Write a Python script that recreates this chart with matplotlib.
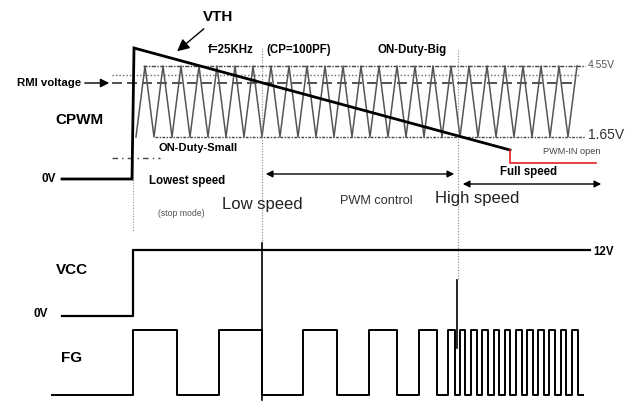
import matplotlib
matplotlib.use("Agg")
import matplotlib.pyplot as plt

plt.rcParams['font.family'] = ['Liberation Sans', 'DejaVu Sans']

# levels (pixel rows of the drawing)
y_vth_top = 48
y_455 = 66
y_dot = 75
y_rmi = 83
y_165 = 137
y_cpwm0 = 179
y_red = 163

# CPWM / VTH trace
cpwm_x = [62, 132, 134, 510]
cpwm_y = [179, 179, 48, 150]
red_x = [510, 510, 596]
red_y = [150, 163, 163]

# triangle carrier (f=25KHz)
tri_bot_x = [136, 154, 172, 190, 208, 226, 244, 262, 280, 298, 316, 334, 352,
             370, 388, 406, 424, 442, 460, 478, 496, 514, 532, 550, 568]
tri_top_x = [145, 163, 181, 199, 217, 235, 253, 271, 289, 307, 325, 343, 361,
             379, 397, 415, 433, 451, 469, 487, 505, 523, 541, 559, 577]

# VCC
vcc_x = [62, 133, 133, 590]
vcc_y = [316, 316, 250, 250]

# FG edges (start low)
fg_start, fg_end = 52, 583
fg_edges = [133, 177, 219, 262, 303, 337, 369, 397, 419, 437, 448, 455,
            460, 465, 471, 477, 482, 488, 494, 499, 505, 510, 516, 522,
            527, 533, 538, 544, 549, 555, 561, 566, 572, 578]
fg_lo, fg_hi = 395, 330

fig = plt.figure(figsize=(6.3, 4.01), dpi=100)
ax = fig.add_axes([0, 0, 1, 1])
ax.set_xlim(0, 630)
ax.set_ylim(401, 0)
ax.axis('off')

# reference levels
ax.plot([143, 585], [y_455, y_455], color='#444444', lw=1.0, ls=(0, (3, 1, 1, 1)))
ax.plot([112, 580], [y_dot, y_dot], color='#666666', lw=1.0, ls=(0, (1, 1.5)))
ax.plot([112, 577], [y_rmi, y_rmi], color='#333333', lw=1.2, ls=(0, (6, 3)))
ax.plot([155, 585], [y_165, y_165], color='#444444', lw=1.0, ls=(0, (2, 1, 1, 1)))
ax.plot([112, 160], [158, 158], color='#444444', lw=1.0, ls=(0, (4, 3, 1, 3)))

# triangle wave
tx, ty = [], []
for b, t in zip(tri_bot_x, tri_top_x):
    tx += [b, t]
    ty += [y_165, y_455]
ax.plot(tx, ty, color='#555555', lw=1.1)

# vertical guides
ax.plot([133, 133], [160, 232], color='#999999', lw=0.8, ls=(0, (1, 1.5)))
ax.plot([262, 262], [48, 243], color='#888888', lw=0.8, ls=(0, (1, 1.5)))
ax.plot([458, 458], [50, 280], color='#888888', lw=0.8, ls=(0, (1, 1.5)))
ax.plot([262, 262], [243, 400], color='black', lw=1.2)
ax.plot([457, 457], [280, 348], color='black', lw=1.2)

# CPWM trace
ax.plot(cpwm_x, cpwm_y, color='black', lw=2.0, solid_joinstyle='miter')
ax.plot(red_x, red_y, color='#e02020', lw=1.2)

# VCC and FG
ax.plot(vcc_x, vcc_y, color='black', lw=1.6)
fx, fy = [fg_start], [fg_lo]
level = fg_lo
for e in fg_edges:
    fx += [e, e]
    nxt = fg_hi if level == fg_lo else fg_lo
    fy += [level, nxt]
    level = nxt
fx.append(fg_end)
fy.append(level)
ax.plot(fx, fy, color='black', lw=1.4)

# arrows
aprops = dict(arrowstyle='-|>', color='black', lw=1.0, mutation_scale=13)
ax.annotate('', xy=(112, y_rmi), xytext=(82, y_rmi), arrowprops=aprops)
ax.annotate('', xy=(175, 53), xytext=(206, 27),
            arrowprops=dict(arrowstyle='-|>', color='black', lw=1.0, mutation_scale=18))
dprops = dict(arrowstyle='<|-|>', color='black', lw=1.0, mutation_scale=10)
ax.annotate('', xy=(457, 174), xytext=(263, 174), arrowprops=dprops)
ax.annotate('', xy=(604, 184), xytext=(460, 184), arrowprops=dprops)

# labels
def lab(x, y, s, size, bold=True, ha='center', color='black'):
    ax.text(x, y, s, fontsize=size, fontweight='bold' if bold else 'normal',
            ha=ha, va='center', color=color)

lab(218, 17, 'VTH', 11)
lab(231, 50, 'f=25KHz', 8.3)
lab(299, 50, '(CP=100PF)', 8.3)
lab(412, 50, 'ON-Duty-Big', 8.3)
lab(17, 83, 'RMI voltage', 8.2, ha='left')
lab(79, 120, 'CPWM', 11)
lab(198, 148, 'ON-Duty-Small', 8.0)
lab(49, 179, '0V', 8.5)
lab(187, 181, 'Lowest speed', 8.3)
lab(181, 214, '(stop mode)', 6.3, bold=False, color='#555555')
lab(262, 205, 'Low speed', 12, bold=False, color='#222222')
lab(376, 201, 'PWM control', 9.2, bold=False, color='#333333')
lab(477, 198, 'High speed', 12, bold=False, color='#222222')
lab(529, 172, 'Full speed', 8.3)
lab(572, 152, 'PWM-IN open', 6.6, bold=False, color='#444444')
lab(588, 65, '4.55V', 7.5, bold=False, ha='left', color='#555555')
lab(588, 135, '1.65V', 10, bold=False, ha='left', color='#333333')
lab(72, 270, 'VCC', 11)
lab(593, 252, '12V', 8.3, ha='left')
lab(41, 314, '0V', 8.5)
lab(72, 358, 'FG', 11)

fig.savefig('out.png', dpi=100)
